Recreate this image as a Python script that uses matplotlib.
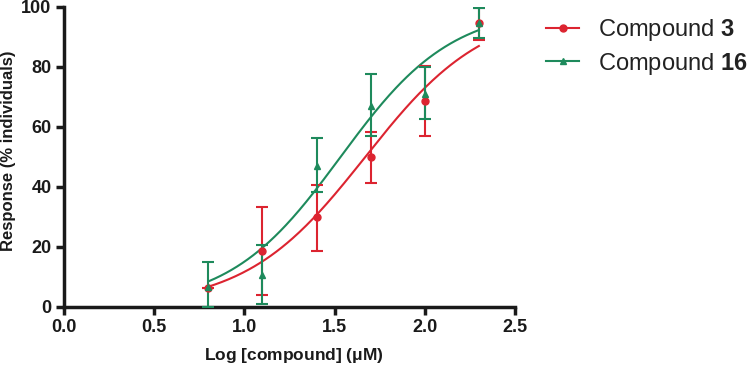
import numpy as np
import matplotlib
matplotlib.use('Agg')
import matplotlib.pyplot as plt

plt.rcParams['font.family'] = ['Liberation Sans', 'DejaVu Sans']
plt.rcParams['mathtext.fontset'] = 'custom'
plt.rcParams['mathtext.bf'] = 'Liberation Sans:bold'
plt.rcParams['mathtext.rm'] = 'Liberation Sans'

# data
log_conc = [0.8, 1.1, 1.4, 1.7, 2.0, 2.3]

c3_resp = [6.3, 18.7, 30.0, 50.0, 68.7, 94.5]
c3_lo = [6.3, 4.0, 18.7, 41.3, 57.0, 89.0]
c3_hi = [6.3, 33.3, 40.5, 58.3, 80.3, 99.8]

c16_resp = [6.5, 10.8, 47.0, 67.0, 71.0, 94.5]
c16_lo = [0.0, 1.0, 38.3, 57.0, 62.7, 89.5]
c16_hi = [15.0, 20.7, 56.3, 77.7, 80.0, 99.5]

# sigmoidal fit parameters (bottom, top, logEC50, hill)
c3_fit = (0, 100, 1.67, 1.31)
c16_fit = (0, 100, 1.533, 1.407)

red = '#dc2430'
green = '#1e8a5c'


def logistic(x, p):
    bottom, top, ec50, hill = p
    return bottom + (top - bottom) / (1 + 10 ** ((ec50 - x) * hill))


fig = plt.figure(figsize=(7.5, 3.67), dpi=100)
ax = fig.add_axes([0.0853, 0.1635, 0.6013, 0.8175])

xs = np.linspace(log_conc[0], log_conc[-1], 200)

for resp, lo, hi, fit, col, mk, lab in [
        (c3_resp, c3_lo, c3_hi, c3_fit, red, 'o', r'Compound $\mathbf{3}$'),
        (c16_resp, c16_lo, c16_hi, c16_fit, green, '^', r'Compound $\mathbf{16}$')]:
    resp = np.array(resp)
    yerr = [resp - np.array(lo), np.array(hi) - resp]
    ax.errorbar(log_conc, resp, yerr=yerr, fmt=mk, color=col, ms=5,
                ecolor=col, elinewidth=1.5, capsize=4, capthick=1.5, zorder=3)
    ax.plot(xs, logistic(xs, fit), color=col, lw=1.5, zorder=2)
    ax.plot([], [], color=col, marker=mk, ms=5, lw=1.5, label=lab)

ax.set_xlim(0, 2.5)
ax.set_ylim(0, 100)
ax.set_xticks([0.0, 0.5, 1.0, 1.5, 2.0, 2.5])
ax.set_yticks([0, 20, 40, 60, 80, 100])
ax.set_xticklabels(['0.0', '0.5', '1.0', '1.5', '2.0', '2.5'])
for s in ['top', 'right']:
    ax.spines[s].set_visible(False)
for s in ['left', 'bottom']:
    ax.spines[s].set_linewidth(2.5)
    ax.spines[s].set_color('#1a1a1a')
ax.tick_params(width=2.5, length=6, labelsize=13, color='#1a1a1a', labelcolor='#1a1a1a', pad=3)
for t in ax.get_xticklabels() + ax.get_yticklabels():
    t.set_fontweight('bold')

# axis titles placed on the figure so they sit where the original has them
fig.text(0.392, 0.030, r'Log [compound] ($\mathbf{\mu}$M)', fontsize=12.5, fontweight='bold',
         color='#1a1a1a', ha='center', va='center')
fig.text(0.012, 0.589, 'Response (% individuals)', fontsize=12, fontweight='bold',
         color='#1a1a1a', ha='center', va='center', rotation=90)

fig.legend(loc='upper left', bbox_to_anchor=(0.70, 1.012), frameon=False,
           fontsize=17, handlelength=1.4, handletextpad=0.8, labelspacing=0.33,
           labelcolor='#222222')

fig.savefig('out.png', dpi=100)
